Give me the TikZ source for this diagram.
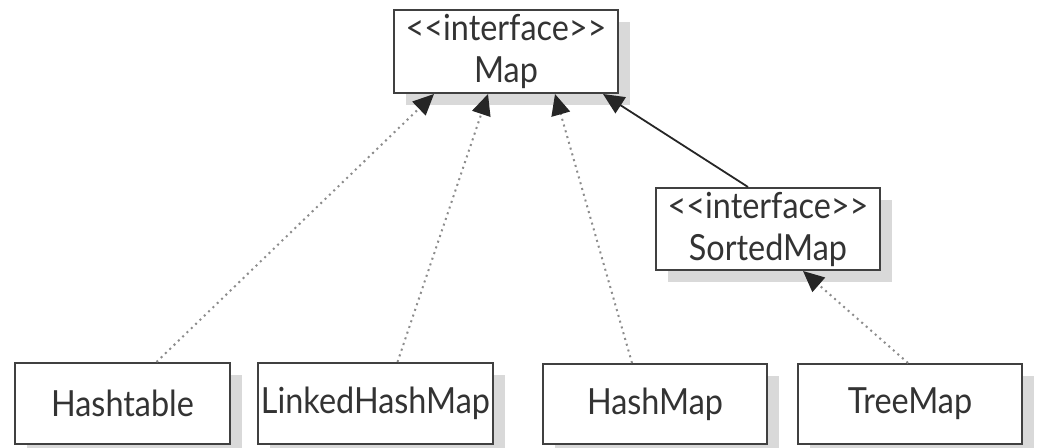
\documentclass[tikz,border=0pt]{standalone}
\usepackage{fontspec}
\newfontfamily\umlfont{Lato}[FakeStretch=0.9]
\usetikzlibrary{arrows.meta,shadows}
\definecolor{txtgray}{HTML}{333333}
\definecolor{shadowgray}{HTML}{D9D9D9}

\tikzset{
  classbox/.style={rectangle, draw=black!75, line width=1pt, fill=white,
    align=center, text=txtgray, inner sep=1.5pt,
    font=\umlfont\fontsize{18}{21}\selectfont,
    drop shadow={shadow xshift=6pt, shadow yshift=-6pt, fill=shadowgray, opacity=1}},
  realizes/.style={draw=black!45, line width=1pt, dotted,
    -{Triangle[length=10.5pt,width=9.5pt,color=black!85]}},
  extends/.style={draw=black!85, line width=0.9pt,
    -{Triangle[length=10.5pt,width=9.5pt,color=black!85]}}
}

\begin{document}
\begin{tikzpicture}[x=0.5pt,y=-0.5pt]
                \useasboundingbox (0,0) rectangle (1038,448);
                % interfaces
                \node[classbox, minimum width=112pt, minimum height=41.5pt] (map) at (506,51.5) {<<interface>>\\Map};
                \node[classbox, minimum width=112pt, minimum height=41pt] (sortedmap) at (768,229) {<<interface>>\\SortedMap};
                % implementations
                \node[classbox, minimum width=107.5pt, minimum height=40.5pt] (hashtable) at (122.5,403.5) {Hashtable};
                \node[classbox, minimum width=117.5pt, minimum height=40.5pt] (linkedhashmap) at (375.5,403.5) {LinkedHashMap};
                \node[classbox, minimum width=112pt, minimum height=40pt] (hashmap) at (655,404) {HashMap};
                \node[classbox, minimum width=112pt, minimum height=40pt] (treemap) at (910,404) {TreeMap};
                % arrows
                \draw[realizes] ([xshift=17pt]hashtable.north) -- ([xshift=-36pt]map.south);
                \draw[realizes] ([xshift=11pt]linkedhashmap.north) -- ([xshift=-9pt]map.south);
                \draw[realizes] ([xshift=-11.5pt]hashmap.north) -- ([xshift=24.5pt]map.south);
                \draw[extends] ([xshift=-10pt]sortedmap.north) -- ([xshift=48.5pt]map.south);
                \draw[realizes] ([xshift=-1pt]treemap.north) -- ([xshift=17.5pt]sortedmap.south);
            \end{tikzpicture}
\end{document}
